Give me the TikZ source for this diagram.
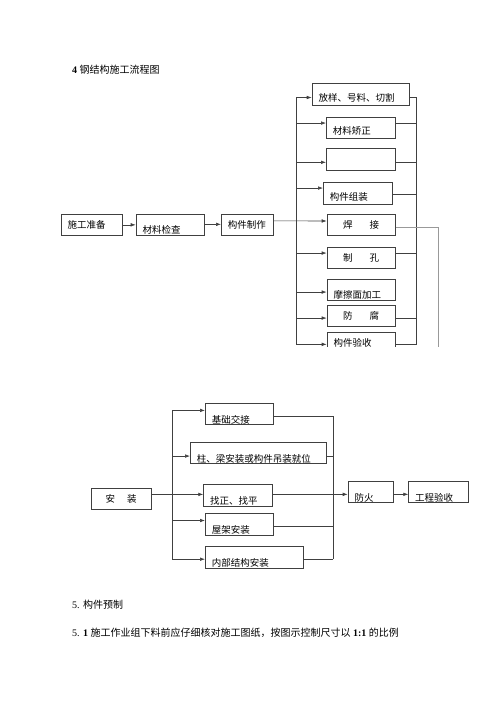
\documentclass[tikz,border=0pt]{standalone}
\usepackage{fontspec}
\setmainfont{Liberation Serif}
\newfontfamily\cjk{Noto Sans CJK SC}
\usetikzlibrary{arrows.meta}

\begin{document}
\begin{tikzpicture}[x=1pt,y=-1pt,
  box/.style={draw=black!75,line width=0.7pt,anchor=north west,inner xsep=6.5pt,inner ysep=0pt,
    align=left,text height=8pt,text depth=0.8pt,font=\cjk\fontsize{9.5}{11}\selectfont},
  mid/.style={text height=14pt},
  low/.style={text height=19pt},
  line/.style={draw=black!75,line width=0.6pt},
  arr/.style={line,-{Latex[length=5pt,width=3.6pt]}},
  txt/.style={anchor=west,inner sep=0pt,font=\fontsize{10}{12}\selectfont}]
 \useasboundingbox (0,0) rectangle (500,707);
 \node (title) at (72,70) [txt] {\textbf{4} {\cjk 钢结构施工流程图}};

 % fabrication
 \begin{scope}
 \clip (0,0) rectangle (500,346.5);
 \node (prep) at (60.7,214) [box,text width=48pt,minimum height=21pt] {施工准备};
 \node (check) at (135.7,213.5) [box,low,text width=55.3pt,minimum height=21pt] {材料检查};
 \node (make) at (221,214) [box,text width=39pt,minimum height=21pt] {构件制作};
 \node (make 1) at (311.7,83.3) [box,mid,text width=84.3pt,minimum height=21.7pt] {放样、号料、切割};
 \node (make 2) at (326,116.7) [box,mid,text width=56pt,minimum height=21pt] {材料矫正};
 \node (make 3) at (326,148.3) [box,text width=56pt,minimum height=21.7pt] {};
 \node (make 4) at (323,182.3) [box,mid,text width=55.7pt,minimum height=22pt] {构件组装};
 \node (make 5) at (326.7,214.3) [box,align=center,text width=55.3pt,minimum height=20.7pt] {焊\hspace{17pt}接};
 \node (make 6) at (326.7,246.7) [box,align=center,text width=55.3pt,minimum height=21pt] {制\hspace{17pt}孔};
 \node (make 7) at (326.7,279) [box,low,text width=55.3pt,minimum height=21pt] {摩擦面加工};
 \node (make 8) at (326.7,305) [box,align=center,text width=55.3pt,minimum height=21pt] {防\hspace{17pt}腐};
 \node (make 9) at (326.7,331.7) [box,text width=55.3pt,minimum height=21pt] {构件验收};
 \coordinate (bus l) at (296,97.3);
 \coordinate (bus lb) at (296,344);
 \coordinate (bus r) at (416.7,97);
 \coordinate (bus rb) at (416.7,344);
 \coordinate (weld end) at (438.3,346.7);
 \draw[line] (bus l) -- (bus lb);
 \draw[line] (bus r) -- (bus rb);
 \draw[arr] (prep.east) -- (prep.east -| check.west);
 \draw[arr] (check.east) -- (check.east -| make.west);
 \draw[arr] ([yshift=4pt]make.east) -- ([yshift=4pt]make 5.west);
 \draw[arr] ([yshift=-3pt]make 1.west -| bus l) -- ([yshift=-3pt]make 1.west);
 \draw[arr] ([yshift=4.5pt]make 2.west -| bus l) -- ([yshift=4.5pt]make 2.west);
 \draw[arr] ([yshift=-2.8pt]make 3.west -| bus l) -- ([yshift=-2.8pt]make 3.west);
 \draw[arr] ([yshift=5.6pt]make 4.west -| bus l) -- ([yshift=5.6pt]make 4.west);
 \draw[arr] ([yshift=4.5pt]make 6.west -| bus l) -- ([yshift=4.5pt]make 6.west);
 \draw[arr] ([yshift=-2.2pt]make 7.west -| bus l) -- ([yshift=-2.2pt]make 7.west);
 \draw[arr] ([yshift=-2.2pt]make 8.west -| bus l) -- ([yshift=-2.2pt]make 8.west);
 \draw[arr] ([yshift=-1.8pt]make 9.west -| bus l) -- ([yshift=-1.8pt]make 9.west);
 \draw[line] ([yshift=-3pt]make 1.east) -- ([yshift=-3pt]make 1.east -| bus r);
 \draw[line] ([yshift=4.5pt]make 2.east) -- ([yshift=4.5pt]make 2.east -| bus r);
 \draw[line] ([yshift=-2.8pt]make 3.east) -- ([yshift=-2.8pt]make 3.east -| bus r);
 \draw[line] ([yshift=-1pt]make 4.east) -- ([yshift=-1pt]make 4.east -| bus r);
 \draw[line] ([yshift=4.5pt]make 6.east) -- ([yshift=4.5pt]make 6.east -| bus r);
 \draw[line] ([yshift=-2.2pt]make 8.east) -- ([yshift=-2.2pt]make 8.east -| bus r);
 \draw[line] ([yshift=-1.8pt]make 9.east) -- ([yshift=-1.8pt]make 9.east -| bus r);
 \draw[line,draw=black!40] ([yshift=-2pt]make 5.east) -| (weld end);
 \end{scope}

 % erection
 \node (inst) at (90.7,487.7) [box,align=center,text width=47pt,minimum height=21.3pt] {安\hspace{12pt}装};
 \node (inst 1) at (205,403.3) [box,low,text width=55.3pt,minimum height=20.7pt] {基础交接};
 \node (inst 2) at (190,442.3) [box,low,text width=123pt,minimum height=21pt] {柱、梁安装或构件吊装就位};
 \node (inst 3) at (203.3,484.3) [box,low,text width=55.4pt,minimum height=21.4pt] {找正、找平};
 \node (inst 4) at (205,513.3) [box,low,text width=55.3pt,minimum height=21.7pt] {屋架安装};
 \node (inst 5) at (205,546) [box,low,text width=84.7pt,minimum height=21.7pt] {内部结构安装};
 \node (fire) at (347.7,481) [box,low,text width=32.6pt,minimum height=21.3pt] {防火};
 \node (final) at (408.3,481) [box,low,text width=47pt,minimum height=21.3pt] {工程验收};
 \coordinate (bus a) at (172.3,410);
 \coordinate (bus ab) at (172.3,559);
 \coordinate (bus b) at (333.3,416);
 \coordinate (bus bb) at (333.3,559);
 \draw[line] (bus a) -- (bus ab);
 \draw[line] (bus b) -- (bus bb);
 \draw[arr] ([yshift=3.6pt]inst 1.west -| bus a) -- ([yshift=3.6pt]inst 1.west);
 \draw[arr] ([yshift=-2.9pt]inst 2.west -| bus a) -- ([yshift=-2.9pt]inst 2.west);
 \draw[arr] ([yshift=4pt]inst 4.west -| bus a) -- ([yshift=4pt]inst 4.west);
 \draw[arr] ([yshift=-2pt]inst 5.west -| bus a) -- ([yshift=-2pt]inst 5.west);
 \draw[arr] ([yshift=4.3pt]inst.east) -- ([yshift=4.3pt]inst.east -| inst 3.west);
 \draw[arr] ([yshift=1pt]inst 3.east) -- ([yshift=1pt]inst 3.east -| fire.west);
 \draw[arr] ([yshift=-2.3pt]fire.east) -- ([yshift=-2.3pt]final.west);
 \draw[line] ([yshift=-2.4pt]inst 1.east) -- ([yshift=-2.4pt]inst 1.east -| bus b);
 \draw[line] ([yshift=-2.9pt]inst 2.east) -- ([yshift=-2.9pt]inst 2.east -| bus b);
 \draw[line] ([yshift=-2pt]inst 4.east) -- ([yshift=-2pt]inst 4.east -| bus b);
 \draw[line] ([yshift=-2pt]inst 5.east) -- ([yshift=-2pt]inst 5.east -| bus b);

 \node (sec) at (72,605) [txt] {5. {\cjk 构件预制}};
 \node (para) at (72,633) [txt] {5. \textbf{1} {\cjk 施工作业组下料前应仔细核对施工图纸，按图示控制尺寸以} \textbf{1:1} {\cjk 的比例}};
\end{tikzpicture}
\end{document}
